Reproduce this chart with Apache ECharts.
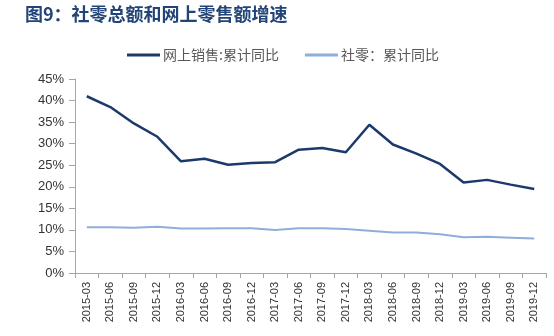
<!DOCTYPE html>
<html>
<head>
<meta charset="utf-8">
<script src="https://cdn.jsdelivr.net/npm/echarts@6/dist/echarts.min.js"></script>
<style>html,body{margin:0;padding:0;background:#fff;}#c{width:554px;height:336px;}</style>
</head>
<body>
<div id="c"></div>
<script>
const categories = ['2015-03','2015-06','2015-09','2015-12','2016-03','2016-06','2016-09','2016-12','2017-03','2017-06','2017-09','2017-12','2018-03','2018-06','2018-09','2018-12','2019-03','2019-06','2019-09','2019-12'];
const onlineSales = [41.0, 38.5, 34.7, 31.6, 25.9, 26.5, 25.1, 25.5, 25.7, 28.6, 29.0, 28.0, 34.4, 29.8, 27.7, 25.3, 21.0, 21.6, 20.5, 19.5];
const retailTotal = [10.6, 10.6, 10.5, 10.7, 10.3, 10.3, 10.4, 10.4, 10.0, 10.4, 10.4, 10.2, 9.8, 9.4, 9.4, 9.0, 8.3, 8.4, 8.2, 8.0];
const seriesNames = ['网上销售:累计同比', '社零：累计同比'];
const titleText = '图9：社零总额和网上零售额增速';

const chart = echarts.init(document.getElementById('c'), null, {renderer: 'canvas'});
chart.setOption({
  animation: false,
  backgroundColor: '#ffffff',
  title: {
    text: titleText,
    left: 20, top: 0,
    textStyle: {fontFamily: 'Noto Sans CJK SC', fontWeight: 'bold', fontSize: 18, color: '#234477'}
  },
  legend: {
    top: 43, left: 122,
    itemWidth: 33, itemHeight: 3, itemGap: 26,
    icon: 'rect',
    textStyle: {fontFamily: 'Noto Sans CJK SC', fontSize: 14, color: '#595959', padding: [0,0,0,-2]},
    data: seriesNames
  },
  grid: {left: 75, right: 8, top: 79, bottom: 63},
  xAxis: {
    type: 'category',
    data: categories,
    boundaryGap: true,
    axisLine: {lineStyle: {color: '#a6a6a6', width: 1}},
    axisTick: {show: true, length: 5, lineStyle: {color: '#a6a6a6'}},
    axisLabel: {rotate: 90, interval: 0, fontFamily: 'Liberation Sans', fontSize: 11, color: '#333333', margin: 9}
  },
  yAxis: {
    type: 'value',
    min: 0, max: 45, interval: 5,
    axisLine: {show: true, lineStyle: {color: '#a6a6a6', width: 1}},
    axisTick: {show: true, length: 6, lineStyle: {color: '#a6a6a6'}},
    splitLine: {show: false},
    axisLabel: {formatter: '{value}%', fontFamily: 'Liberation Sans', fontSize: 13, color: '#333333', margin: 11}
  },
  series: [
    {
      name: seriesNames[0], type: 'line', data: onlineSales,
      symbol: 'none', color: '#1b3a6b',
      lineStyle: {color: '#1b3a6b', width: 2.5}
    },
    {
      name: seriesNames[1], type: 'line', data: retailTotal,
      symbol: 'none', color: '#8eaedb',
      lineStyle: {color: '#8eaedb', width: 2}
    }
  ]
});
</script>
</body>
</html>
